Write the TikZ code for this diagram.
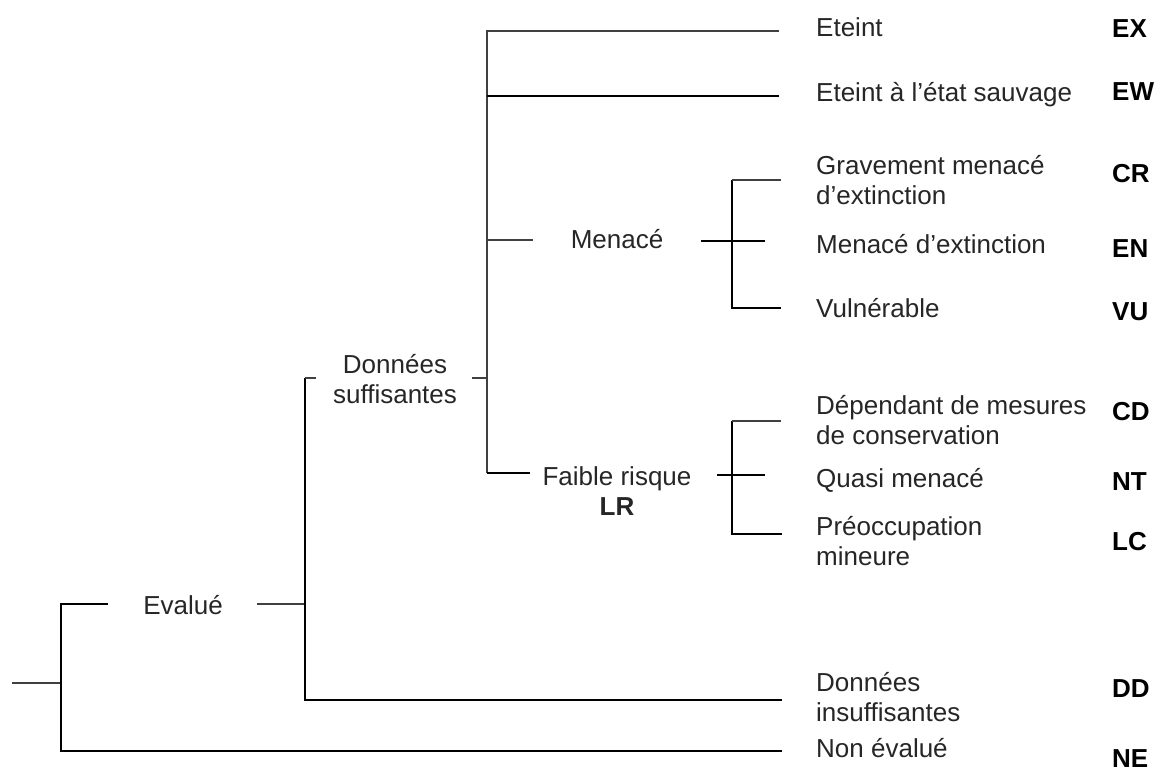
\documentclass[tikz,border=0pt]{standalone}
\usepackage{fontspec}
\setmainfont{Liberation Sans}
\begin{document}
\begin{tikzpicture}[x=1pt,y=-1pt,
  lbl/.style={inner sep=0pt, text=black!85, font=\fontsize{26}{30}\selectfont, align=left},
  mid/.style={inner sep=0pt, text=black!85, font=\fontsize{26}{30}\selectfont, align=center},
  code/.style={inner sep=0pt, text=black, font=\fontsize{26}{30}\selectfont\bfseries, anchor=base west},
  thinl/.style={line width=1.6pt, draw=black!75},
  thickl/.style={line width=2.6pt, draw=black}]
\useasboundingbox (0,0) rectangle (1156,772);
% ---------- labels (multi-line nodes: base = last line) ----------
\node[mid, anchor=base] (evalue) at (183,614) {Evalué};
\node[mid, anchor=base] (dsuff) at (395,403) {Données\\suffisantes};
\node[mid, anchor=base] (menace) at (617,248) {Menacé};
\node[mid, anchor=base] (lr) at (617,515) {Faible risque\\\textbf{LR}};
\node[lbl, anchor=base west] (ex) at (816,36) {Eteint};
\node[lbl, anchor=base west] (ew) at (816,101) {Eteint à l’état sauvage};
\node[lbl, anchor=base west] (cr) at (816,204) {Gravement menacé\\d’extinction};
\node[lbl, anchor=base west] (en) at (816,253) {Menacé d’extinction};
\node[lbl, anchor=base west] (vu) at (816,317) {Vulnérable};
\node[lbl, anchor=base west] (cd) at (816,444) {Dépendant de mesures\\de conservation};
\node[lbl, anchor=base west] (nt) at (816,487) {Quasi menacé};
\node[lbl, anchor=base west] (lc) at (816,565) {Préoccupation\\mineure};
\node[lbl, anchor=base west] (dd) at (816,721) {Données\\insuffisantes};
\node[lbl, anchor=base west] (ne) at (816,757) {Non évalué};
\node[code] (cEX) at (1112,37) {EX};
\node[code] (cEW) at (1112,100) {EW};
\node[code] (cCR) at (1112,182) {CR};
\node[code] (cEN) at (1112,257) {EN};
\node[code] (cVU) at (1112,320) {VU};
\node[code] (cCD) at (1112,420) {CD};
\node[code] (cNT) at (1112,490) {NT};
\node[code] (cLC) at (1112,550) {LC};
\node[code] (cDD) at (1112,697) {DD};
\node[code] (cNE) at (1112,767) {NE};
% ---------- junction coordinates ----------
\coordinate (root) at (12,683);
\coordinate (r0) at (61,683);
\coordinate (r1) at (61,604);
\coordinate (r2) at (61,751);
\coordinate (evIn) at (108,604);
\coordinate (evOut) at (257,604);
\coordinate (s0) at (305,604);
\coordinate (s1) at (305,378);
\coordinate (s2) at (305,700);
\coordinate (dsIn) at (316,378);
\coordinate (dsOut) at (472,378);
\coordinate (t0) at (487,378);
\coordinate (t1) at (487,31);
\coordinate (t2) at (487,96);
\coordinate (t3) at (487,240);
\coordinate (t4) at (487,473);
\coordinate (exIn) at (779,31);
\coordinate (ewIn) at (779,96);
\coordinate (mnIn) at (533,240);
\coordinate (lrIn) at (530,473);
\coordinate (mnOut) at (701,241);
\coordinate (m0) at (732,241);
\coordinate (mnEnd) at (765,241);
\coordinate (m1) at (732,180);
\coordinate (m2) at (732,308);
\coordinate (crIn) at (781,180);
\coordinate (vuIn) at (781,308);
\coordinate (lrOut) at (717,475);
\coordinate (l0) at (732,475);
\coordinate (lrEnd) at (765,475);
\coordinate (l1) at (732,421);
\coordinate (l2) at (732,534);
\coordinate (cdIn) at (781,421);
\coordinate (lcIn) at (782,534);
\coordinate (ddIn) at (782,700);
\coordinate (neIn) at (782,751);
% ---------- connectors ----------
\draw[thinl] (root) -- (r0);
\draw[thickl] (evIn) -- (r1) -- (r2) -- (neIn);
\draw[thinl] (evOut) -- (s0);
\draw[thickl] (s1) -- (s2) -- (ddIn);
\draw[thinl] (dsIn) -- (s1);
\draw[thinl] (dsOut) -- (t0);
\draw[thinl] (exIn) -- (t1) -- (t4);
\draw[thickl] (t2) -- (ewIn);
\draw[thinl] (t3) -- (mnIn);
\draw[thickl] (t4) -- (lrIn);
\draw[thickl] (mnOut) -- (mnEnd);
\draw[thickl] (m1) -- (m2) -- (vuIn);
\draw[thinl] (m1) -- (crIn);
\draw[thickl] (lrOut) -- (lrEnd);
\draw[thickl] (l1) -- (l2) -- (lcIn);
\draw[thinl] (l1) -- (cdIn);
\end{tikzpicture}
\end{document}
